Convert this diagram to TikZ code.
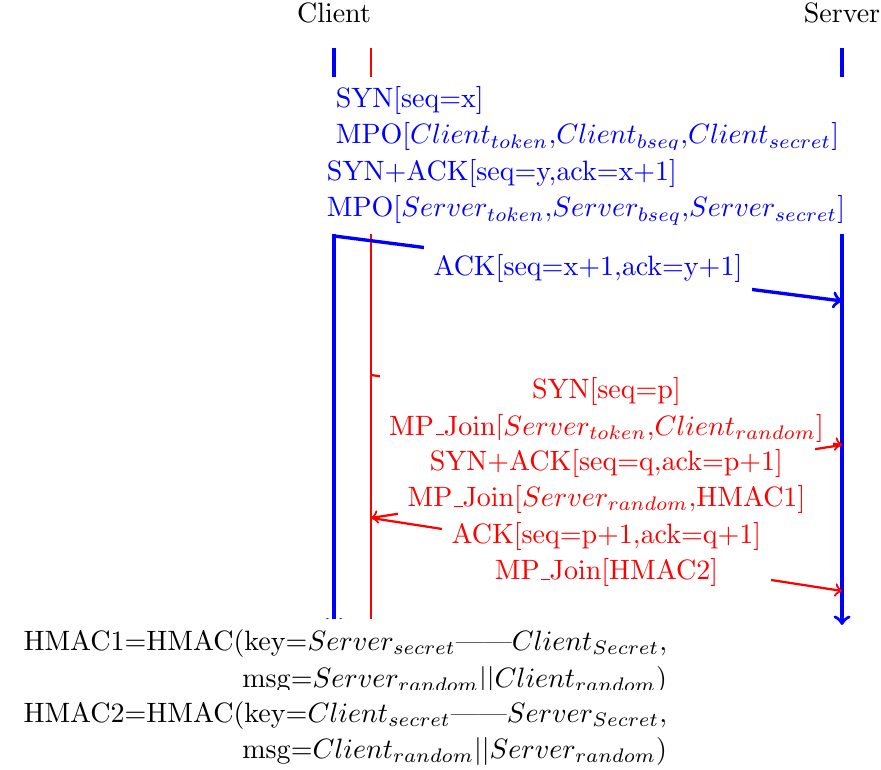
\documentclass[tikz,border=0pt]{standalone}
\usepackage[OT1]{fontenc}
\usepackage{amsmath}
\usepackage{amssymb}
\usetikzlibrary{calc,arrows}

\begin{document}
\begin{tikzpicture}[
    mainline/.style={blue,very thick},
    subline/.style={red,thick},
    mainmsg/.style={blue,very thick,->},
    submsg/.style={red,thick,->},
    msglabel/.style={fill=white,font=\fontsize{10}{13}\selectfont},
  ]
  \useasboundingbox (0,0) rectangle (11.054,-9.661);
  % hosts
  \node (client) at (4.191,-0.163) {Client};
  \node (server) at (10.565,-0.163) {Server};
  % lifelines
  \coordinate (c0) at (4.191,-0.602);
  \coordinate (c1) at (4.191,-7.872);
  \coordinate (s0) at (10.565,-0.602);
  \coordinate (s1) at (10.565,-7.842);
  \coordinate (r0) at (4.655,-0.602);
  \coordinate (r1) at (4.655,-7.842);
  \draw[mainline,->] (c0) -- (c1);
  \draw[mainline,->] (s0) -- (s1);
  \draw[subline] (r0) -- (r1);
  % first subflow (MPO)
  \node[msglabel,text=blue,align=left,anchor=north,minimum width=6.9cm] (syn) at (7.371,-0.961)
    {SYN[seq=x]\\MPO[$Client_{token}$,$Client_{bseq}$,$Client_{secret}$]};
  \node[msglabel,text=blue,align=left,anchor=north,minimum width=6.9cm] (synack) at (7.353,-1.877)
    {SYN+ACK[seq=y,ack=x+1]\\MPO[$Server_{token}$,$Server_{bseq}$,$Server_{secret}$]};
  \coordinate (a0) at (4.191,-2.961);
  \coordinate (a1) at (10.565,-3.777);
  \draw[mainmsg] (a0) -- node[msglabel,text=blue] (ack) {ACK[seq=x+1,ack=y+1]} (a1);
  % second subflow (MP_Join)
  \coordinate (p0) at (4.655,-4.705);
  \coordinate (p1) at (10.565,-5.583);
  \coordinate (p2) at (4.655,-6.499);
  \coordinate (p3) at (10.565,-7.415);
  \draw[submsg] (p0) -- node[msglabel,text=red,align=center] (jsyn)
    {SYN[seq=p]\\MP\_Join[$Server_{token}$,$Client_{random}$]} (p1);
  \draw[submsg] (p1) -- node[msglabel,text=red,align=center] (jsynack)
    {SYN+ACK[seq=q,ack=p+1]\\MP\_Join[$Server_{random}$,HMAC1]} (p2);
  \draw[submsg] (p2) -- node[msglabel,text=red,align=center] (jack)
    {ACK[seq=p+1,ack=q+1]\\MP\_Join[HMAC2]} (p3);
  % keys
  \node[msglabel,inner ysep=4pt,align=right,anchor=north east] (hmac1) at (8.494,-7.754)
    {HMAC1=HMAC(key=$Server_{secret}$---{}---$Client_{Secret}$,\\msg=$Server_{random}||Client_{random}$)};
  \node[msglabel,inner ysep=4pt,align=right,anchor=north east] (hmac2) at (8.494,-8.651)
    {HMAC2=HMAC(key=$Client_{secret}$---{}---$Server_{Secret}$,\\msg=$Client_{random}||Server_{random}$)};
\end{tikzpicture}
\end{document}
